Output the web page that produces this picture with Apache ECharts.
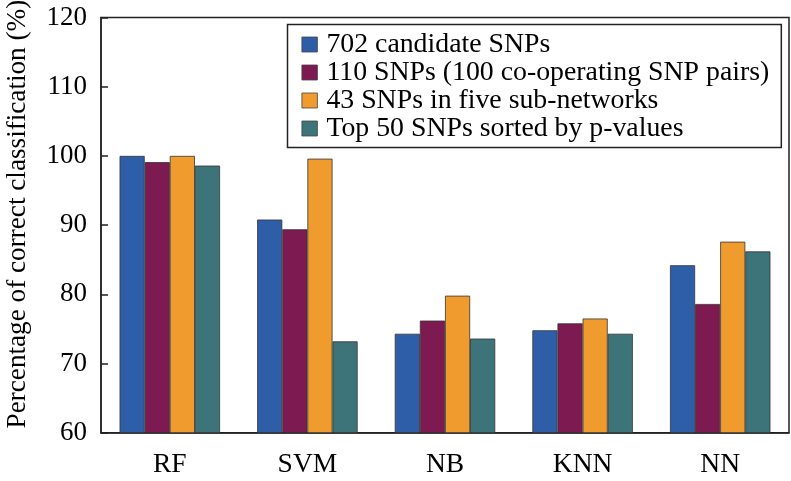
<!DOCTYPE html>
<html><head><meta charset="utf-8">
<script src="https://cdn.jsdelivr.net/npm/echarts@6/dist/echarts.min.js"></script>
<style>html,body{margin:0;padding:0;background:#fff}#c{width:791px;height:481px}</style>
</head><body><div id="c"></div>
<script>
var categories = ['RF', 'SVM', 'NB', 'KNN', 'NN'];
var seriesNames = ['702 candidate SNPs', '110 SNPs (100 co-operating SNP pairs)', '43 SNPs in five sub-networks', 'Top 50 SNPs sorted by p-values'];
var s702 = [100, 90.8, 74.3, 74.8, 84.2];
var s110 = [99.1, 89.4, 76.2, 75.8, 78.6];
var s43 = [100, 99.6, 79.8, 76.5, 87.6];
var sTop50 = [98.6, 73.2, 73.6, 74.3, 86.2];
var colors = ['#2f5ea9', '#7d1a52', '#f09b2e', '#3c7479'];
var FONT = 'Liberation Serif';

var chart = echarts.init(document.getElementById('c'), null, {renderer: 'canvas'});
var data = [s702, s110, s43, sTop50];
chart.setOption({
  animation: false,
  textStyle: {fontFamily: FONT, color: '#000'},
  grid: {left: 101, right: 2, top: 17.5, bottom: 48.3, outerBoundsMode: 'none', containLabel: false, show: true, borderColor: '#222', borderWidth: 1.5, backgroundColor: 'transparent'},
  legend: {
    orient: 'vertical', left: 287.5, top: 24.5,
    data: seriesNames,
    itemWidth: 15.5, itemHeight: 15, itemGap: 0,
    padding: [6, 12, 5, 14],
    borderColor: '#222', borderWidth: 1.5,
    icon: 'rect',
    textStyle: {fontFamily: FONT, fontSize: 27.8, lineHeight: 27.6, color: '#000', padding: [0, 0, 0, 4]},
    itemStyle: {borderColor: '#444', borderWidth: 0.8}
  },
  xAxis: {
    type: 'category', data: categories,
    axisLine: {lineStyle: {color: '#222', width: 1.5}},
    axisTick: {inside: true, length: 8, lineStyle: {color: '#222', width: 1.5}},
    axisLabel: {fontFamily: FONT, fontSize: 27.5, color: '#000', margin: 18},
    splitLine: {show: false}
  },
  yAxis: {
    type: 'value', min: 60, max: 120, interval: 10,
    name: 'Percentage of correct classification (%)',
    nameLocation: 'middle', nameGap: 70,
    nameTextStyle: {fontFamily: FONT, fontSize: 27.2, color: '#000', padding: [0, 0, 0, 22]},
    axisLine: {show: true, lineStyle: {color: '#222', width: 1.5}},
    axisTick: {show: true, inside: true, length: 7, lineStyle: {color: '#222', width: 1.5}},
    axisLabel: {fontFamily: FONT, fontSize: 27, color: '#000', margin: 14},
    splitLine: {show: false}
  },
  series: seriesNames.map(function (n, i) {
    return {
      name: n, type: 'bar', data: data[i],
      barGap: '0%', barCategoryGap: '27%',
      itemStyle: {color: colors[i], borderColor: '#333', borderWidth: 0.8}
    };
  })
});
</script></body></html>
